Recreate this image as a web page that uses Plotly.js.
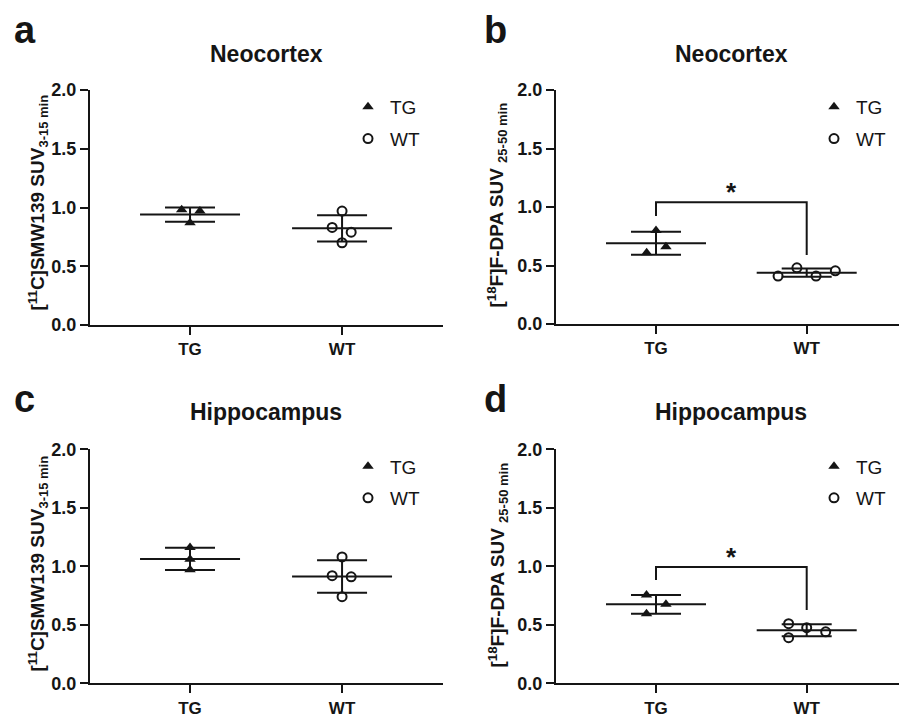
<!DOCTYPE html>
<html>
<head>
<meta charset="utf-8">
<script src="https://cdn.plot.ly/plotly-3.0.1.min.js"></script>
<style>
  html, body { margin: 0; padding: 0; background: #fff; }
  #chart { width: 899px; height: 714px; }
</style>
</head>
<body>
<div id="chart"></div>
<script>
// ---- data -------------------------------------------------------------
const groups = ['TG', 'WT'];
const yTicks = [0, 0.5, 1.0, 1.5, 2.0];

// [11C]SMW139 SUV (3-15 min), per animal
const smwNeoTG = [0.98, 0.97, 0.87];
const smwNeoWT = [0.97, 0.83, 0.79, 0.70];
const smwHipTG = [1.16, 1.06, 0.97];
const smwHipWT = [1.08, 0.92, 0.91, 0.74];

// [18F]F-DPA SUV (25-50 min), per animal
const dpaNeoTG = [0.80, 0.66, 0.61];
const dpaNeoWT = [0.41, 0.48, 0.41, 0.455];
const dpaHipTG = [0.755, 0.675, 0.595];
const dpaHipWT = [0.51, 0.39, 0.475, 0.44];

// significance brackets TG vs WT: [left foot, bar, right foot]
const sigDpaNeo = [0.923, 1.04, 0.59];
const sigDpaHip = [0.883, 0.994, 0.626];
const sigLabel = '*';

// ---- text -------------------------------------------------------------
const subSpan = t => '<sub><span style="font-size:13px">' + t + '</span></sub>';
const smwTitle = '[<sup>11</sup>C]SMW139 SUV' + subSpan('3-15 min');
const dpaTitle = '[<sup>18</sup>F]F-DPA SUV ' + subSpan('25-50 min');

// ---- layout helpers ---------------------------------------------------
const W = 899, H = 714;
const px = v => v / W;
const py = v => 1 - v / H;
const INK = '#151515';
const FONT = 'Arial, "Liberation Sans", Helvetica, sans-serif';

const mean = a => a.reduce((s, v) => s + v, 0) / a.length;
const sd = a => {
  const m = mean(a);
  return Math.sqrt(a.reduce((s, v) => s + (v - m) * (v - m), 0) / (a.length - 1));
};

// line-ew markers are drawn 1.4x their size
const MEAN_LEN = 100;

const panels = [
  { n: '',  letter: 'a', region: 'Neocortex',   ytitle: smwTitle, tg: smwNeoTG, wt: smwNeoWT,
    tgDx: [-0.055, 0.065, 0], wtDx: [0, -0.065, 0.06, 0],
    xPx: [90, 443], yPx: [90, 325], xr: [-0.658, 1.664], sig: null,
    letterPx: [12, 30], titlePy: 54, yTitlePx: [37.5, 203] },
  { n: '2', letter: 'b', region: 'Neocortex',   ytitle: dpaTitle, tg: dpaNeoTG, wt: dpaNeoWT,
    tgDx: [0, 0.066, -0.062], wtDx: [-0.19, -0.065, 0.062, 0.19],
    xPx: [556, 899], yPx: [90, 324], xr: [-0.6636, 1.6125], sig: sigDpaNeo,
    letterPx: [482, 30], titlePy: 54, yTitlePx: [497.5, 205] },
  { n: '3', letter: 'c', region: 'Hippocampus', ytitle: smwTitle, tg: smwHipTG, wt: smwHipWT,
    tgDx: [0, 0, 0], wtDx: [0, -0.065, 0.06, 0],
    xPx: [90, 443], yPx: [449.3, 683.3], xr: [-0.658, 1.664], sig: null,
    letterPx: [12, 399], titlePy: 412, yTitlePx: [37.5, 564] },
  { n: '4', letter: 'd', region: 'Hippocampus', ytitle: dpaTitle, tg: dpaHipTG, wt: dpaHipWT,
    tgDx: [-0.063, 0.066, -0.063], wtDx: [-0.12, -0.12, 0, 0.126],
    xPx: [556, 899], yPx: [449.3, 683.3], xr: [-0.6636, 1.6125], sig: sigDpaHip,
    letterPx: [482, 399], titlePy: 412, yTitlePx: [497.5, 565] }
];

const traces = [];
const layout = {
  width: W, height: H, autosize: false,
  margin: { l: 0, r: 0, t: 0, b: 0, pad: 0 },
  paper_bgcolor: '#ffffff', plot_bgcolor: 'rgba(0,0,0,0)',
  font: { family: FONT, color: INK },
  showlegend: true,
  annotations: [], shapes: []
};

panels.forEach(p => {
  const xa = 'x' + p.n, ya = 'y' + p.n;
  const legendId = 'legend' + p.n;

  // mean line with SD error bars
  traces.push({
    type: 'scatter', mode: 'markers', xaxis: xa, yaxis: ya,
    x: [0, 1], y: [mean(p.tg), mean(p.wt)],
    marker: { symbol: 'line-ew', size: MEAN_LEN / 1.4, color: INK, line: { color: INK, width: 2 } },
    error_y: { type: 'data', array: [sd(p.tg), sd(p.wt)], visible: true,
               width: 25, thickness: 2, color: INK },
    showlegend: false, hoverinfo: 'skip', cliponaxis: false
  });
  // individual animals
  traces.push({
    type: 'scatter', mode: 'markers', xaxis: xa, yaxis: ya, name: groups[0],
    legend: legendId, legendgroup: p.letter + 'tg',
    x: p.tgDx.map(d => 0 + d), y: p.tg,
    marker: { symbol: 'triangle-up', size: 10, color: INK, line: { width: 0 } },
    cliponaxis: false
  });
  traces.push({
    type: 'scatter', mode: 'markers', xaxis: xa, yaxis: ya, name: groups[1],
    legend: legendId, legendgroup: p.letter + 'wt',
    x: p.wtDx.map(d => 1 + d), y: p.wt,
    marker: { symbol: 'circle-open', size: 9, color: INK, line: { color: INK, width: 2 } },
    cliponaxis: false
  });

  layout['xaxis' + p.n] = {
    domain: [px(p.xPx[0]), px(p.xPx[1])], range: p.xr, anchor: ya,
    tickmode: 'array', tickvals: [0, 1], ticktext: groups,
    showline: true, linewidth: 2, linecolor: INK,
    ticks: 'outside', ticklen: 8, tickwidth: 2, tickcolor: INK,
    showgrid: false, zeroline: false, fixedrange: true,
    tickfont: { family: FONT, size: 17, weight: 'bold', color: INK }
  };
  layout['yaxis' + p.n] = {
    domain: [py(p.yPx[1]), py(p.yPx[0])], range: [0, 2], anchor: xa,
    tickmode: 'array', tickvals: yTicks, tickformat: '.1f',
    showline: true, linewidth: 2, linecolor: INK,
    ticks: 'outside', ticklen: 8, tickwidth: 2, tickcolor: INK,
    showgrid: false, zeroline: false, fixedrange: true,
    tickfont: { family: FONT, size: 18, weight: 'bold', color: INK }
  };

  // legend in the upper right of each panel
  layout[legendId] = {
    x: px(p.xPx[0] + 256), y: py(p.yPx[0] - 2), xanchor: 'left', yanchor: 'top',
    bgcolor: 'rgba(0,0,0,0)', borderwidth: 0, itemwidth: 34,
    tracegroupgap: 4, traceorder: 'grouped',
    font: { family: FONT, size: 19, color: INK }
  };

  // y-axis title, rotated
  layout.annotations.push({
    xref: 'paper', yref: 'paper', x: px(p.yTitlePx[0]), y: py(p.yTitlePx[1]),
    xanchor: 'center', yanchor: 'middle', textangle: -90, showarrow: false,
    text: p.ytitle,
    font: { family: FONT, size: 19, weight: 'bold', color: INK }
  });

  // panel letter and region title
  layout.annotations.push({
    xref: 'paper', yref: 'paper', x: px(p.letterPx[0]), y: py(p.letterPx[1]),
    xanchor: 'left', yanchor: 'middle', showarrow: false, text: p.letter,
    font: { family: FONT, size: 38, weight: 'bold', color: INK }
  });
  layout.annotations.push({
    xref: xa, yref: 'paper', x: 0.5, y: py(p.titlePy),
    xanchor: 'center', yanchor: 'middle', showarrow: false, text: p.region,
    font: { family: FONT, size: 23, weight: 'bold', color: INK }
  });

  // significance bracket between TG and WT
  if (p.sig) {
    const [l, t, r] = p.sig;
    layout.shapes.push({
      type: 'path', xref: xa, yref: ya,
      path: `M0,${l} L0,${t} L1,${t} L1,${r}`,
      line: { color: INK, width: 2 }
    });
    layout.annotations.push({
      xref: xa, yref: ya, x: 0.5, y: t + 0.085, xanchor: 'center', yanchor: 'middle',
      showarrow: false, text: sigLabel,
      font: { family: FONT, size: 26, weight: 'bold', color: INK }
    });
  }
});

Plotly.newPlot('chart', traces, layout, { displayModeBar: false, staticPlot: true });
</script>
</body>
</html>
